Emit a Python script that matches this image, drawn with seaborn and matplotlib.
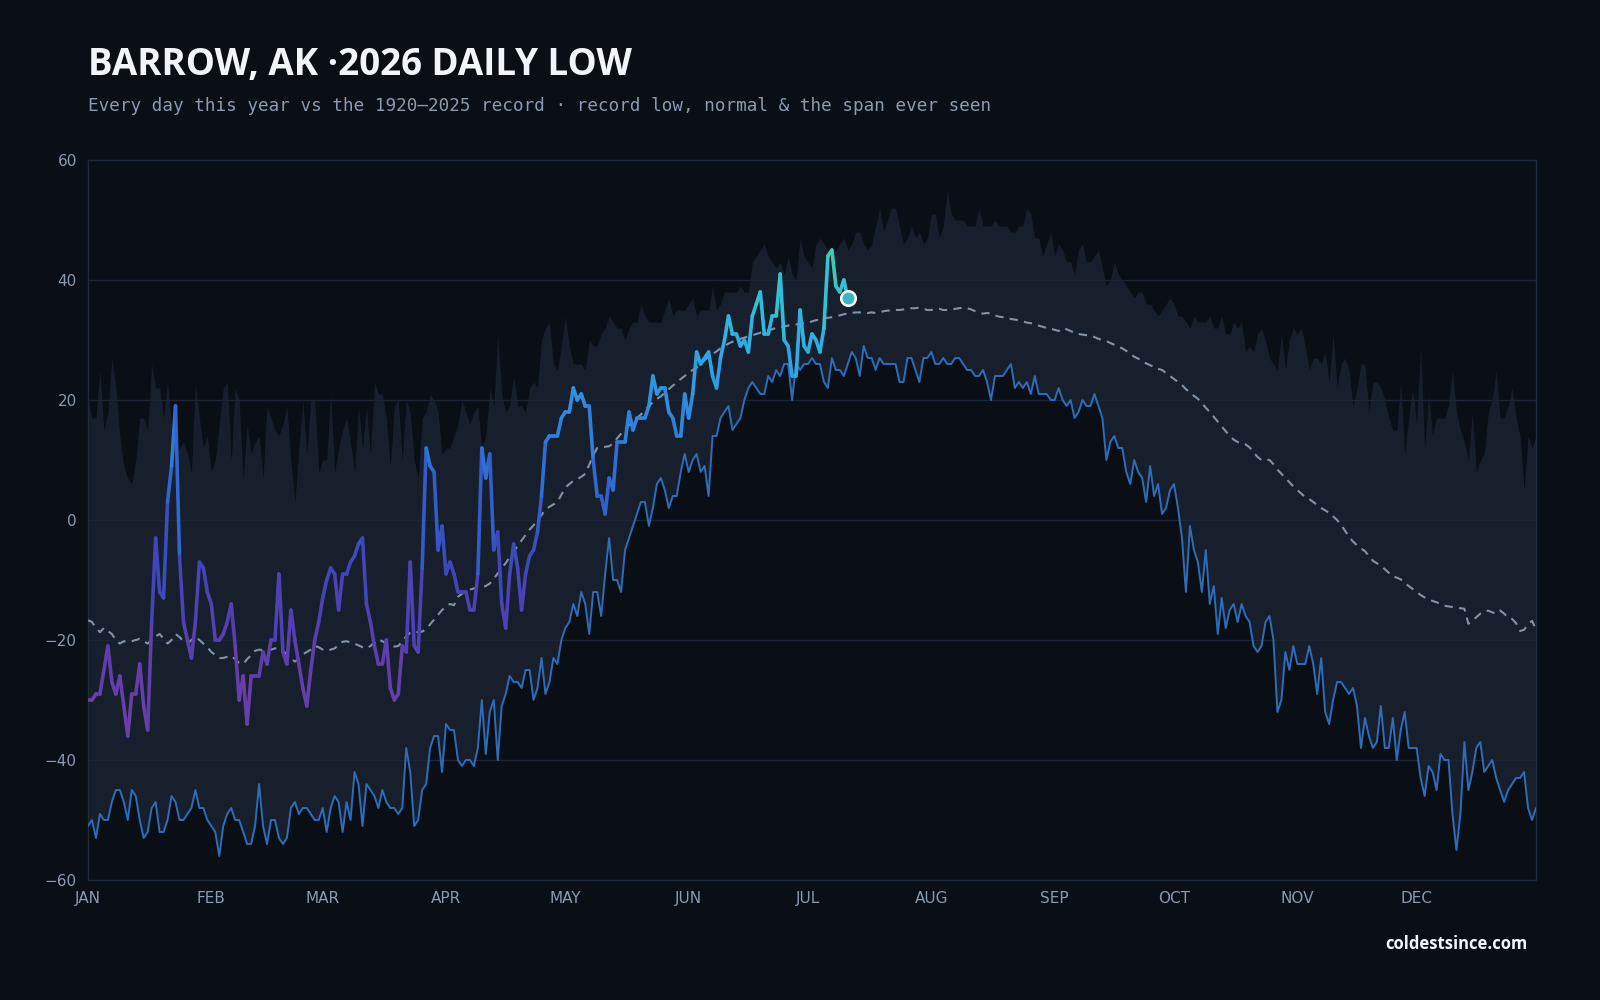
import numpy as np
import pandas as pd
import seaborn as sns
import matplotlib.pyplot as plt
from matplotlib.collections import LineCollection
from matplotlib.colors import LinearSegmentedColormap, Normalize

# record high (top of the band), day 0 = Jan 1
record_high = [
    20, 17, 17, 25, 15, 18, 27, 22, 14, 9, 7, 6, 10, 17, 17, 15, 26, 22, 22, 17, 23, 16, 11, 12, 13, 11, 8, 23, 17, 12, 14,
    8, 10, 16, 22, 23, 10, 22, 20, 7, 16, 11, 13, 14, 7, 19, 17, 15, 14, 16, 19, 10, 3, 12, 20, 11, 20, 20, 8, 10, 10, 21,
    8, 12, 15, 17, 13, 8, 19, 12, 19, 11, 23, 21, 21, 17, 9, 19, 20, 10, 20, 18, 10, 7, 17, 18, 21, 20, 18, 11, 12, 12, 14,
    16, 20, 18, 16, 18, 19, 12, 14, 22, 19, 31, 21, 18, 19, 24, 19, 19, 18, 22, 23, 22, 30, 32, 33, 26, 25, 29, 34, 29, 26,
    26, 26, 25, 30, 29, 29, 31, 32, 34, 33, 32, 32, 30, 32, 33, 33, 36, 34, 33, 33, 33, 33, 35, 37, 34, 35, 35, 35, 36, 37, 34,
    35, 35, 35, 39, 35, 36, 38, 38, 38, 38, 39, 38, 38, 43, 44, 45, 46, 44, 43, 42, 43, 41, 44, 41, 40, 47, 44, 43, 42, 46,
    47, 46, 45, 45, 45, 46, 47, 45, 46, 48, 48, 46, 45, 46, 49, 52, 48, 50, 52, 52, 49, 46, 47, 49, 47, 48, 46, 47, 51, 51, 47,
    49, 55, 51, 50, 50, 50, 49, 49, 49, 52, 49, 49, 49, 50, 49, 49, 49, 48, 48, 49, 49, 52, 51, 47, 47, 44, 46, 48, 44, 46,
    45, 43, 43, 41, 45, 46, 43, 43, 44, 45, 42, 39, 40, 43, 41, 40, 39, 38, 37, 38, 38, 36, 36, 35, 34, 35, 36, 37, 36, 34, 34,
    33, 32, 34, 33, 33, 33, 34, 32, 32, 34, 31, 31, 33, 32, 33, 28, 29, 28, 31, 32, 30, 27, 26, 25, 31, 25, 30, 32, 31, 32,
    29, 25, 27, 27, 26, 28, 23, 31, 22, 26, 27, 25, 19, 22, 26, 26, 18, 23, 23, 22, 20, 17, 15, 15, 23, 11, 17, 22, 16,
    29, 12, 21, 14, 17, 17, 17, 19, 25, 18, 15, 13, 10, 18, 8, 10, 11, 18, 20, 25, 17, 17, 19, 22, 17, 14, 5, 14, 12, 14,
]

# record low (bottom of the band, drawn as the thin blue line)
record_low = [
    -51, -50, -53, -49, -50, -50, -47, -45, -45, -47, -50, -45, -46, -50, -53, -52, -48, -47, -52, -52, -50, -46, -47, -50, -50, -49, -48, -45, -48, -48, -50,
    -51, -52, -56, -51, -49, -48, -50, -50, -52, -54, -54, -51, -44, -51, -54, -50, -50, -53, -54, -53, -48, -47, -49, -48, -48, -49, -50, -50, -48, -52, -48,
    -46, -47, -52, -47, -50, -42, -44, -51, -44, -45, -46, -48, -45, -47, -48, -48, -49, -48, -38, -42, -51, -50, -45, -44, -38, -36, -36, -42, -34, -35, -35,
    -40, -41, -40, -40, -41, -38, -30, -39, -32, -30, -40, -31, -29, -26, -27, -27, -28, -25, -25, -30, -28, -23, -29, -27, -23, -24, -20, -18, -17, -14,
    -16, -12, -14, -19, -12, -12, -16, -9, -3, -10, -10, -12, -5, -3, -1, 1, 3, 3, -1, 2, 6, 7, 5, 2, 4, 4, 8, 11, 8, 10, 11,
    8, 9, 4, 14, 14, 17, 18, 19, 15, 16, 17, 20, 22, 23, 22, 21, 21, 24, 23, 25, 24, 26, 26, 20, 26, 25, 26, 26, 27, 26,
    26, 23, 22, 27, 25, 25, 24, 26, 28, 27, 24, 29, 27, 27, 25, 27, 26, 26, 26, 26, 23, 23, 27, 27, 25, 23, 27, 27, 28, 26, 26,
    27, 26, 26, 27, 27, 26, 25, 25, 24, 24, 25, 23, 20, 24, 24, 24, 25, 26, 22, 23, 22, 23, 21, 24, 21, 21, 21, 20, 20, 22,
    20, 19, 20, 17, 18, 20, 19, 19, 21, 19, 17, 10, 13, 14, 12, 12, 8, 6, 10, 8, 7, 3, 9, 4, 6, 1, 2, 5, 6, 2, -3,
    -12, -1, -5, -7, -12, -5, -14, -11, -19, -13, -18, -15, -14, -17, -14, -16, -17, -21, -22, -21, -17, -16, -20, -32, -30, -22, -25, -21, -24, -24,
    -24, -21, -24, -29, -23, -32, -34, -30, -27, -27, -28, -29, -28, -31, -38, -33, -36, -38, -37, -31, -38, -38, -33, -40, -35, -32, -38, -38, -38,
    -43, -46, -41, -42, -45, -39, -40, -40, -49, -55, -49, -37, -45, -42, -38, -37, -42, -41, -40, -43, -45, -47, -45, -44, -43, -43, -42, -48, -50, -48,
]

# normal daily low (dashed)
normal = [
    -16.7, -17, -18, -18.7, -18, -18.5, -19, -20, -20.6, -20.2, -20.3, -20.2, -20, -19.8, -20.2, -20.6, -20, -19.4, -19, -19.8, -20.6, -20, -19, -19.5, -20.2, -20.6, -20, -19.4, -20, -20.6, -21.2,
    -22, -22.5, -23, -23, -22.8, -22.6, -23.2, -23.8, -24, -23.2, -22.5, -21.8, -21.6, -21.7, -21.8, -21.6, -21.4, -21.4, -21.8, -22.4, -23, -23.6, -23.2, -22.4, -22, -21.6, -21, -21.2, -21.6, -21.8, -21.6,
    -21.4, -20.8, -20.3, -20.2, -20.4, -20.6, -20.9, -21.2, -21.4, -21, -20.4, -19.9, -20.2, -20.6, -21, -21.1, -21, -20.2, -19.4, -18.8, -18.6, -18.7, -18.6, -18.2, -17.4, -16.6, -15.8, -15, -14.4, -14, -14.2,
    -12.8, -12.3, -11.9, -11.6, -11.4, -11.2, -11.2, -11, -10.6, -9.8, -8.9, -8, -7.2, -6.2, -5.2, -4.4, -3.4, -2.5, -1.6, -0.9, 0, 0.8, 1.8, 2.2, 2.6, 3, 4.2, 5.4, 6, 6.5,
    6.8, 7.2, 7.7, 9.2, 10.8, 12, 12.1, 12.2, 12.3, 12.8, 13.6, 14.4, 15.2, 15.8, 16.4, 17, 17.6, 18.3, 19, 19.6, 20.2, 20.6, 21.2, 21.8, 22.4, 22.9, 23.5, 24, 24.6, 25, 25.4,
    26, 26.6, 27.2, 27.7, 28.1, 28.6, 29, 29.4, 29.7, 30, 30.2, 30.4, 30.6, 30.8, 31, 31.2, 31.4, 31.6, 31.8, 32, 32.1, 32.3, 32.4, 32.5, 32.6, 32.7, 32.8, 32.9, 33.1, 33.3,
    33.4, 33.6, 33.7, 33.8, 34, 34.1, 34.3, 34.4, 34.5, 34.6, 34.6, 34.5, 34.5, 34.6, 34.5, 34.6, 34.8, 34.9, 34.9, 35, 35, 35.1, 35.2, 35.3, 35.3, 35.4, 35.2, 35, 35, 35.1, 35.2,
    35, 35, 35.1, 35.2, 35.3, 35.4, 35.3, 35.1, 34.8, 34.5, 34.4, 34.5, 34.4, 34.1, 33.9, 33.8, 33.6, 33.5, 33.4, 33.3, 33.1, 32.9, 32.8, 32.6, 32.4, 32.2, 32, 31.9, 31.7, 31.5,
    32, 31.8, 31.5, 31.2, 31, 30.9, 30.8, 30.7, 30.5, 30.2, 30, 29.8, 29.5, 29.2, 28.9, 28.6, 28.2, 27.7, 27.2, 26.9, 26.5, 26.1, 25.8, 25.5, 25.2, 25, 24.5, 24, 23.5, 23, 22.5,
    21.8, 21.3, 20.7, 20.2, 19.5, 18.7, 18, 17.2, 16.4, 15.6, 14.8, 14, 13.4, 13, 12.8, 12.6, 12.1, 11.3, 10.5, 10, 10.1, 10, 9.3, 8.4, 7.7, 7, 6.3, 5.6, 5, 4.4,
    3.8, 3.5, 3, 2.5, 2, 1.6, 1.2, 0.6, 0, -0.8, -1.8, -2.8, -3.6, -4.2, -4.7, -5.2, -6, -6.8, -7.2, -7.6, -8.2, -8.8, -9.4, -9.6, -9.9, -10.5, -11, -11.5, -12,
    -12.5, -12.9, -13.2, -13.5, -13.7, -14, -14.3, -14.4, -14.5, -14.6, -14.7, -14.8, -17.3, -16.8, -16.2, -15.6, -15.2, -15.1, -15.4, -15.6, -15.1, -15.6, -16.3, -16.5, -17.2, -18.5, -18.3, -17.4, -16.8, -18.2,
]

# 2026 daily lows so far (Jan 1 .. Jul 11)
low_2026 = [
    -30, -30, -29, -29, -25, -21, -27, -29, -26, -31, -36, -29, -29, -24, -31, -35, -17, -3, -12, -13, 3, 9, 19, -6, -17, -20, -23, -17, -7, -8, -12,
    -14, -20, -20, -19, -17, -14, -21, -30, -26, -34, -26, -26, -26, -22, -24, -20, -20, -9, -22, -24, -15, -20, -24, -28, -31, -25, -20, -17, -13, -10, -8,
    -9, -15, -9, -9, -7, -6, -4, -3, -14, -17, -21, -24, -24, -20, -28, -30, -29, -21, -22, -7, -21, -22, -8, 12, 9, 8, -5, -1, -9, -7, -9,
    -12, -12, -12, -15, -15, -9, 12, 7, 11, -5, -2, -14, -18, -9, -4, -8, -15, -9, -6, -5, -2, 4, 13, 14, 14, 14, 17, 18, 18, 22,
    20, 21, 19, 19, 10, 4, 4, 1, 7, 5, 13, 13, 13, 18, 15, 17, 17, 17, 19, 24, 21, 22, 22, 18, 17, 14, 14, 21, 17, 21, 28,
    26, 27, 28, 24, 22, 27, 30, 34, 31, 31, 29, 30, 28, 34, 36, 38, 31, 31, 34, 34, 41, 30, 29, 24, 24, 35, 29, 28, 31, 30,
    28, 32, 44, 45, 39, 38, 40, 37,
]

month_labels = ['JAN', 'FEB', 'MAR', 'APR', 'MAY', 'JUN', 'JUL', 'AUG', 'SEP', 'OCT', 'NOV', 'DEC']
month_starts = [0, 31, 59, 90, 120, 151, 181, 212, 243, 273, 304, 334]

days = np.arange(len(record_high))
df = pd.DataFrame({'day': days, 'record_high': record_high,
                   'record_low': record_low, 'normal': normal})
df26 = pd.DataFrame({'day': np.arange(len(low_2026)), 'low': low_2026})

BG = '#0a0e15'
sns.set_theme(style='dark', rc={'figure.facecolor': BG, 'axes.facecolor': BG,
                                'savefig.facecolor': BG, 'axes.edgecolor': '#1f2a3a'})
plt.rcParams['font.family'] = ['DejaVu Sans']

fig, ax = plt.subplots(figsize=(16, 10), dpi=100)
fig.subplots_adjust(left=0.055, right=0.96, top=0.84, bottom=0.12)

# span ever seen
ax.fill_between(df['day'], df['record_low'], df['record_high'], color='#161f2b', lw=0, zorder=1)
for y in range(-40, 60, 20):
    ax.axhline(y, color='#1b2534', lw=1, zorder=2)

sns.lineplot(data=df, x='day', y='record_low', color='#2f6db8', lw=1.4, ax=ax, zorder=3)
sns.lineplot(data=df, x='day', y='normal', color='#8192a8', lw=1.5, ls=(0, (4, 3)), ax=ax, zorder=4)

# this year, coloured by temperature
pts = df26[['day', 'low']].to_numpy(dtype=float)
segs = np.stack([pts[:-1], pts[1:]], axis=1)
cmap = LinearSegmentedColormap.from_list('cold_warm', [
    (0.00, '#6e3fa3'), (0.20, '#5a3eae'), (0.34, '#3f46b8'), (0.50, '#2f63cf'),
    (0.66, '#2f88de'), (0.78, '#2fa8e6'), (0.90, '#32c2d6'), (1.00, '#3fd2a0')])
lc = LineCollection(segs, cmap=cmap, norm=Normalize(-36, 46), lw=2.6,
                    capstyle='round', joinstyle='round', zorder=5)
lc.set_array((pts[:-1, 1] + pts[1:, 1]) / 2)
ax.add_collection(lc)
last = df26.iloc[-1]
ax.scatter(last['day'], last['low'], s=110, color='#38b9c2', edgecolor='white', lw=1.8, zorder=6)

ax.set_xlim(0, 364)
ax.set_ylim(-60, 60)
ax.set_yticks(range(-60, 61, 20))
ax.set_xticks(month_starts)
ax.set_xticklabels(month_labels)
ax.set_xlabel('')
ax.set_ylabel('')
ax.grid(False)
ax.tick_params(colors='#8a9ab0', labelsize=11, length=4, width=1, color='#2a3646', pad=4)
for s in ax.spines.values():
    s.set_color('#1f2a3a')
    s.set_linewidth(1)

fig.text(0.055, 0.925, 'BARROW, AK \u00b72026 DAILY LOW', color='#f2f5f8', fontsize=26.5,
         fontweight='bold', family=['Open Sans', 'DejaVu Sans'], va='baseline')
fig.text(0.055, 0.889, 'Every day this year vs the 1920\u20132025 record \u00b7 record low, normal & the span ever seen',
         color='#8a9ab0', fontsize=12.7, family=['DejaVu Sans Mono'], va='baseline')
fig.text(0.955, 0.051, 'coldestsince.com', color='#f2f5f8', fontsize=12, fontweight='bold',
         family=['Open Sans', 'DejaVu Sans'], ha='right', va='baseline')

fig.savefig('out.png', dpi=100, facecolor=BG)
